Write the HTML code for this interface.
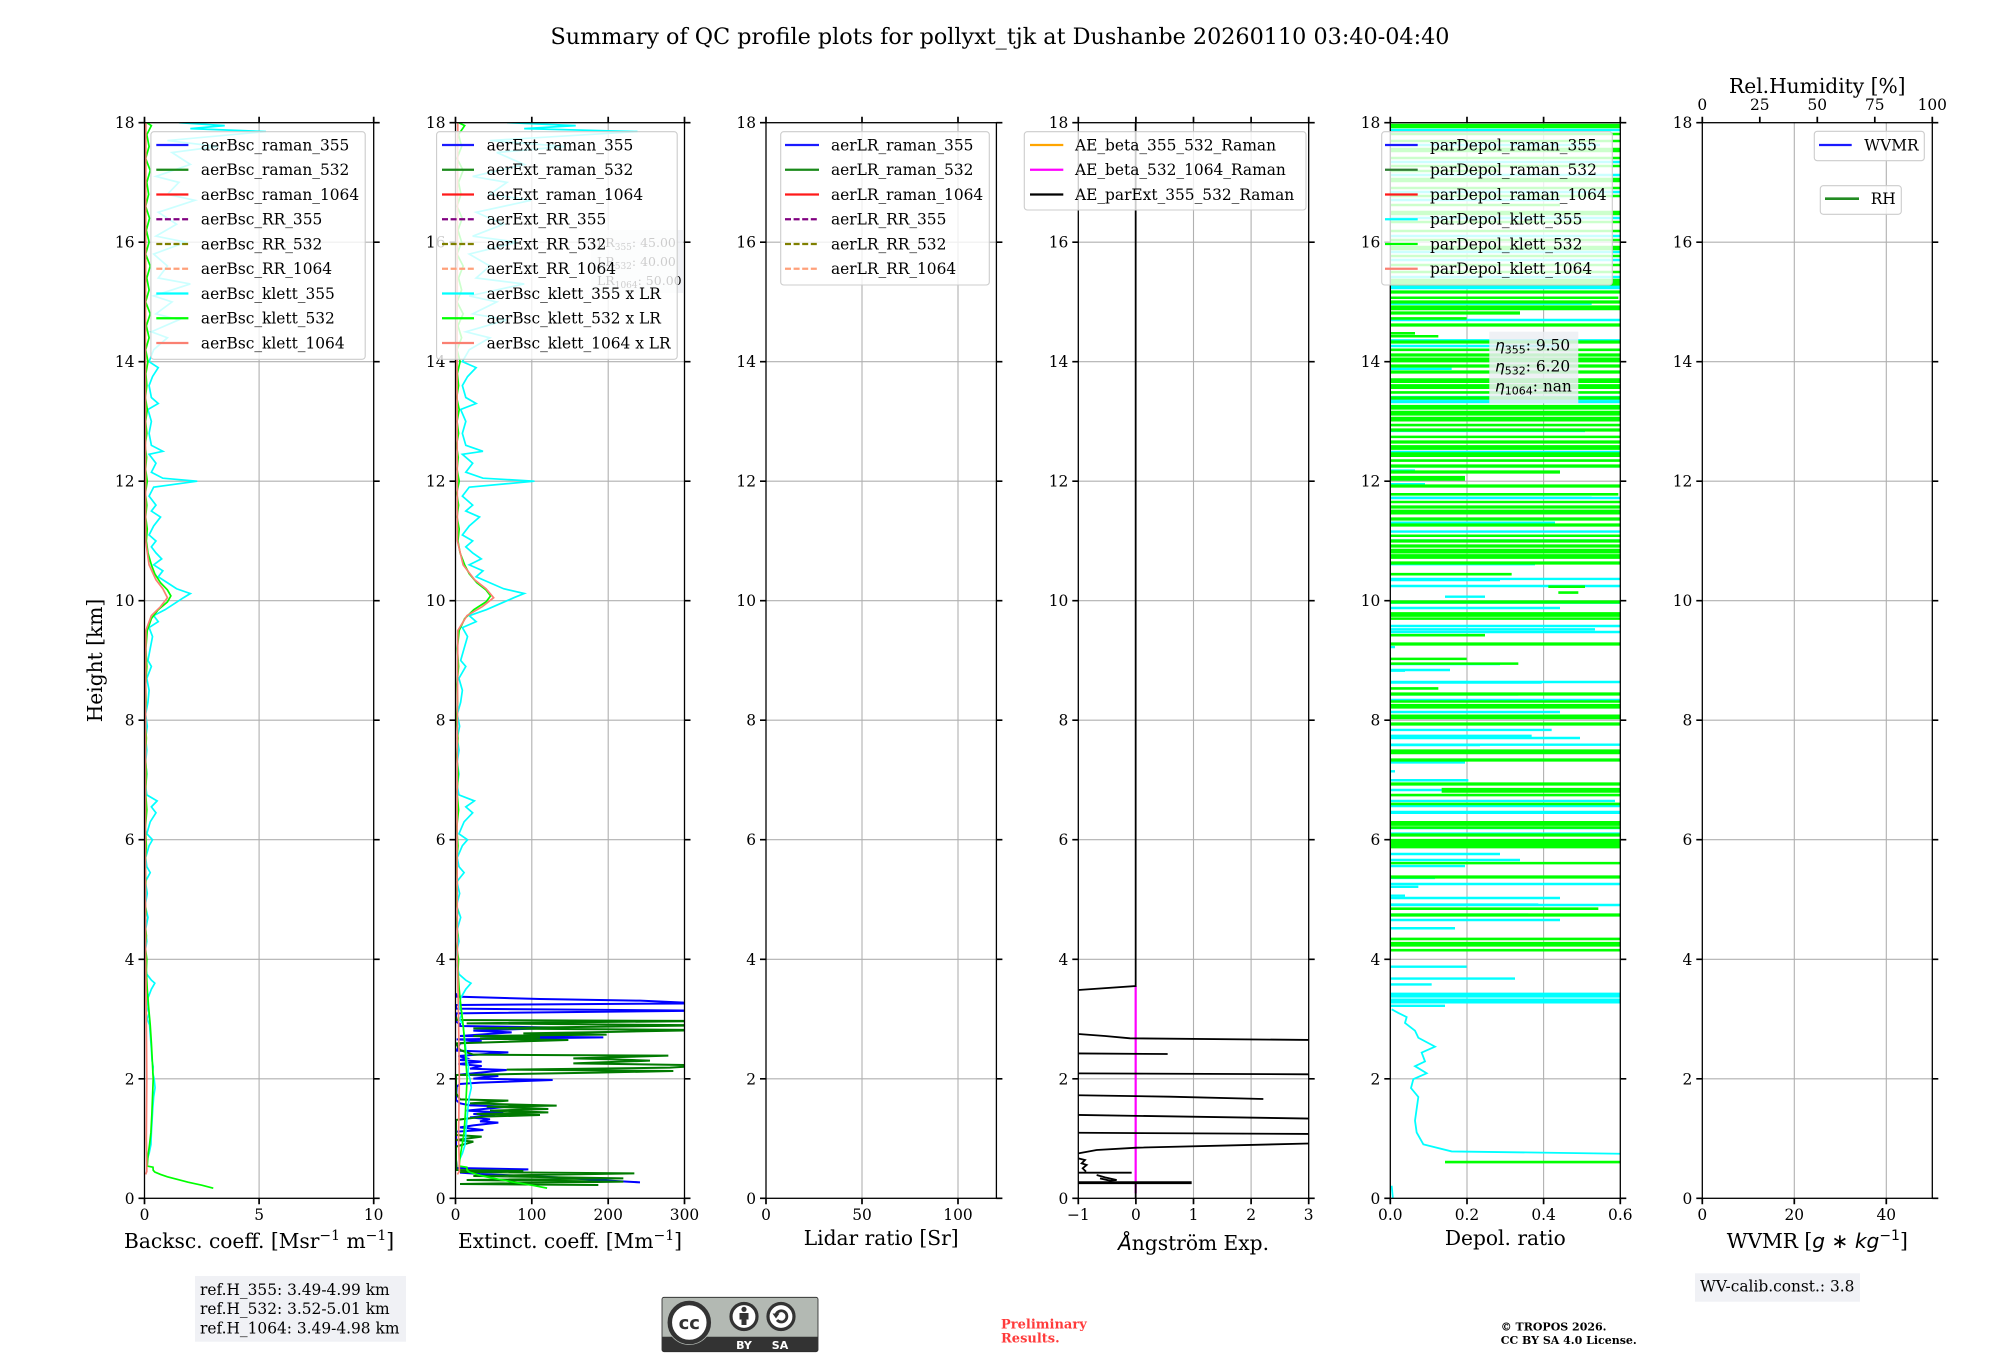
<!DOCTYPE html>
<html><head><meta charset="utf-8"><style>
html,body{margin:0;padding:0;background:#fff}
svg{display:block}
.ns path{vector-effect:non-scaling-stroke;fill:none}
text{font-family:"DejaVu Serif","Liberation Serif",serif;fill:#000}
.t{font-size:15.4px}
.lb{font-size:20.2px}
</style></head><body>
<svg width="2000" height="1360" viewBox="0 0 2000 1360" xmlns="http://www.w3.org/2000/svg">
<defs>
<clipPath id="c1"><rect x="144.5" y="122.7" width="229.2" height="1075.6"/></clipPath>
<clipPath id="c2"><rect x="455.5" y="122.7" width="229" height="1075.6"/></clipPath>
<clipPath id="c4"><rect x="1078.3" y="122.7" width="230.4" height="1075.6"/></clipPath>
<clipPath id="c5"><rect x="1390.3" y="122.7" width="230" height="1075.6"/></clipPath>
<path id="ytl" d="M-6 1198.3H0M-6 1078.8H0M-6 959.3H0M-6 839.7H0M-6 720.2H0M-6 600.7H0M-6 481.2H0M-6 361.7H0M-6 242.2H0M-6 122.7H0"/>
<path id="ytr" d="M0 1198.3H6M0 1078.8H6M0 959.3H6M0 839.7H6M0 720.2H6M0 600.7H6M0 481.2H6M0 361.7H6M0 242.2H6M0 122.7H6"/>
<path id="gh" d="M0 1078.8H230M0 959.3H230M0 839.7H230M0 720.2H230M0 600.7H230M0 481.2H230M0 361.7H230M0 242.2H230"/>
</defs>
<rect width="2000" height="1360" fill="#fff"/>

<!-- Title -->
<text x="1000" y="44" font-size="22" text-anchor="middle" textLength="899" lengthAdjust="spacingAndGlyphs">Summary of QC profile plots for pollyxt_tjk at Dushanbe 20260110 03:40-04:40</text>

<!-- Grids -->
<g stroke="#b0b0b0" stroke-width="1.1" fill="none">
<use href="#gh" x="144.5"/><use href="#gh" x="455.5"/><use href="#gh" x="766"/><use href="#gh" x="1078.5"/><use href="#gh" x="1390.3"/><use href="#gh" x="1702.3"/>
<path d="M259.1 122.7V1198.3M531.8 122.7V1198.3M608.2 122.7V1198.3M862 122.7V1198.3M958 122.7V1198.3M1135.9 122.7V1198.3M1193.5 122.7V1198.3M1251.1 122.7V1198.3M1467 122.7V1198.3M1543.6 122.7V1198.3M1794.3 122.7V1198.3M1886.3 122.7V1198.3"/>
</g>

<!-- Axis 1 data -->
<g clip-path="url(#c1)">
<g class="ns" transform="translate(144.5 1198.3) scale(22.92 -59.76)" stroke-width="1.7">
<path stroke="#00ffff" d="M0.12 0.65L0.2 0.75 0.28 0.9 0.3 1.1 0.33 1.3 0.36 1.5 0.4 1.7 0.46 1.85 0.42 2 0.36 2.1 0.38 2.2 0.33 2.3 0.3 2.5 0.26 2.7 0.22 2.9 0.12 3 0.2 3.1 0.1 3.2 0.15 3.35 0.3 3.5 0.45 3.6 0.3 3.65 0.1 3.75 0.05 3.9 0.08 4 0.02 4.1 0.1 4.3 0.05 4.5 0.15 4.7 0.03 4.9 0.12 5.1 0.04 5.3 0.25 5.45 0.1 5.55 0.05 5.7 0.2 5.9 0.35 6 0.1 6.1 0.25 6.3 0.5 6.45 0.3 6.55 0.55 6.65 0.1 6.75 0.05 6.9 0.1 7.1 0.05 7.3 0.1 7.5 0.05 7.7 0.12 7.9 0.05 8.1 0.15 8.3 0.2 8.5 0.1 8.7 0.3 8.9 0.15 9 0.25 9.2 0.35 9.4 0.2 9.55 0.6 9.65 0.4 9.75 0.9 9.85 1.3 9.95 1.7 10.05 2 10.12 1.4 10.2 1 10.3 0.6 10.4 0.8 10.5 0.4 10.6 0.75 10.7 0.5 10.8 0.3 10.9 0.5 11 0.2 11.1 0.4 11.25 0.7 11.4 0.3 11.5 0.5 11.6 0.2 11.75 0.4 11.9 2.3 12 0.8 12.05 0.3 12.15 0.5 12.3 0.2 12.45 0.8 12.5 0.3 12.6 0.2 12.8 0.3 13 0.15 13.2 0.6 13.3 0.3 13.4 0.2 13.6 0.35 13.75 0.6 13.9 0.2 14 0.4 14.2 1 14.4 0.3 14.5 1.5 14.7 0.5 14.8 1.2 15 0.4 15.1 2 15.3 0.6 15.4 1 15.6 0.4 15.8 1.8 16 0.5 16.1 1.4 16.3 0.6 16.5 2.2 16.7 1 16.8 1.5 17 0.5 17.1 2 17.3 1.2 17.5 3.2 17.6 1 17.7 5.3 17.85 2 17.9 3.5 17.95 1.5 18"/>
<path stroke="#00ff00" d="M3 0.17L2.5 0.22 1.9 0.27 1.4 0.32 1 0.36 0.7 0.4 0.45 0.44 0.38 0.47 0.37 0.52 0.12 0.54 0.15 0.7 0.22 0.9 0.28 1.1 0.32 1.4 0.35 1.7 0.38 2 0.34 2.3 0.3 2.6 0.25 2.9 0.18 3.2 0.12 3.5 0.08 3.8 0.1 4 0.04 4.2 0.08 4.4 0.03 4.6 0.07 4.8 0.02 5 0.06 5.3 0.03 5.6 0.08 5.9 0.04 6.2 0.1 6.5 0.05 6.8 0.09 7.1 0.04 7.4 0.08 7.7 0.03 8 0.07 8.3 0.05 8.6 0.1 8.9 0.06 9.2 0.12 9.5 0.3 9.7 0.6 9.85 1 9.98 1.15 10.08 1 10.18 0.7 10.3 0.45 10.45 0.3 10.6 0.15 10.8 0.08 11 0.12 11.2 0.05 11.4 0.1 11.6 0.04 11.8 0.12 12 0.05 12.2 0.09 12.4 0.03 12.6 0.1 12.8 0.05 13 0.12 13.2 0.04 13.4 0.1 13.6 0.06 13.8 0.15 14 0.05 14.2 0.2 14.4 0.08 14.6 0.25 14.8 0.05 15 0.2 15.2 0.1 15.4 0.25 15.6 0.05 15.8 0.2 16 0.08 16.2 0.22 16.4 0.05 16.6 0.18 16.8 0.1 17 0.25 17.2 0.05 17.4 0.2 17.6 0.1 17.8 0.3 17.95 0.1 18"/>
<path stroke="#fa8072" d="M0.05 0.4L0.1 0.45 0.1 0.6 0.08 1 0.1 2 0.08 3 0.05 4 0.04 6 0.05 8 0.06 9.5 0.3 9.75 0.7 9.9 1 10.05 0.8 10.2 0.5 10.35 0.2 10.6 0.05 11 0.04 14 0.06 18"/>
</g></g>

<!-- Axis 2 data -->
<g clip-path="url(#c2)">
<g class="ns" transform="translate(440 960) scale(0.33333)" stroke-width="2">
<path stroke="#0000ff" d="M600 667L470 660 350 652 120 642 60 638 265 628 50 624 48 600 48 515 130 510 60 502 100 496 175 488 120 484 150 478 90 472 165 466 100 462 190 458 80 452 205 440 90 436 60 430 48 420 50 380 60 372 120 368 338 360 100 356 175 348 60 344 200 330 90 326 125 318 55 312 125 305 60 300 80 295 55 288 205 277 50 272 60 250 125 242 50 238 490 232 60 228 215 217 100 212 365 203 60 198 60 192 48 185 48 160 800 152 48 146 48 135 800 130 733 128 600 122 300 117 50 110 48 100"/>
<path stroke="#007a00" d="M475 675L60 672 550 665 80 660 550 655 100 648 583 640 60 636 250 633 50 630 48 600 48 560 100 545 48 540 125 530 48 525 48 480 130 470 300 465 110 462 325 457 150 452 325 447 260 444 140 440 350 437 90 430 205 422 60 418 48 400 48 345 470 338 700 333 200 329 690 323 800 316 400 310 630 302 520 298 400 295 685 287 100 284 60 270 48 250 385 240 120 236 300 232 100 228 500 224 250 220 500 216 800 210 100 205 800 196 80 190 800 183 50 180 48 170"/>
</g>
<g class="ns" transform="translate(455.5 1198.3) scale(0.7633 -59.76)" stroke-width="1.7">
<g transform="scale(45 1)"><path stroke="#00ffff" d="M0.12 0.65L0.2 0.75 0.28 0.9 0.3 1.1 0.33 1.3 0.36 1.5 0.4 1.7 0.46 1.85 0.42 2 0.36 2.1 0.38 2.2 0.33 2.3 0.3 2.5 0.26 2.7 0.22 2.9 0.12 3 0.2 3.1 0.1 3.2 0.15 3.35 0.3 3.5 0.45 3.6 0.3 3.65 0.1 3.75 0.05 3.9 0.08 4 0.02 4.1 0.1 4.3 0.05 4.5 0.15 4.7 0.03 4.9 0.12 5.1 0.04 5.3 0.25 5.45 0.1 5.55 0.05 5.7 0.2 5.9 0.35 6 0.1 6.1 0.25 6.3 0.5 6.45 0.3 6.55 0.55 6.65 0.1 6.75 0.05 6.9 0.1 7.1 0.05 7.3 0.1 7.5 0.05 7.7 0.12 7.9 0.05 8.1 0.15 8.3 0.2 8.5 0.1 8.7 0.3 8.9 0.15 9 0.25 9.2 0.35 9.4 0.2 9.55 0.6 9.65 0.4 9.75 0.9 9.85 1.3 9.95 1.7 10.05 2 10.12 1.4 10.2 1 10.3 0.6 10.4 0.8 10.5 0.4 10.6 0.75 10.7 0.5 10.8 0.3 10.9 0.5 11 0.2 11.1 0.4 11.25 0.7 11.4 0.3 11.5 0.5 11.6 0.2 11.75 0.4 11.9 2.3 12 0.8 12.05 0.3 12.15 0.5 12.3 0.2 12.45 0.8 12.5 0.3 12.6 0.2 12.8 0.3 13 0.15 13.2 0.6 13.3 0.3 13.4 0.2 13.6 0.35 13.75 0.6 13.9 0.2 14 0.4 14.2 1 14.4 0.3 14.5 1.5 14.7 0.5 14.8 1.2 15 0.4 15.1 2 15.3 0.6 15.4 1 15.6 0.4 15.8 1.8 16 0.5 16.1 1.4 16.3 0.6 16.5 2.2 16.7 1 16.8 1.5 17 0.5 17.1 2 17.3 1.2 17.5 3.2 17.6 1 17.7 5.3 17.85 2 17.9 3.5 17.95 1.5 18"/></g>
<g transform="scale(40 1)"><path stroke="#00ff00" d="M3 0.17L2.5 0.22 1.9 0.27 1.4 0.32 1 0.36 0.7 0.4 0.45 0.44 0.38 0.47 0.37 0.52 0.12 0.54 0.15 0.7 0.22 0.9 0.28 1.1 0.32 1.4 0.35 1.7 0.38 2 0.34 2.3 0.3 2.6 0.25 2.9 0.18 3.2 0.12 3.5 0.08 3.8 0.1 4 0.04 4.2 0.08 4.4 0.03 4.6 0.07 4.8 0.02 5 0.06 5.3 0.03 5.6 0.08 5.9 0.04 6.2 0.1 6.5 0.05 6.8 0.09 7.1 0.04 7.4 0.08 7.7 0.03 8 0.07 8.3 0.05 8.6 0.1 8.9 0.06 9.2 0.12 9.5 0.3 9.7 0.6 9.85 1 9.98 1.15 10.08 1 10.18 0.7 10.3 0.45 10.45 0.3 10.6 0.15 10.8 0.08 11 0.12 11.2 0.05 11.4 0.1 11.6 0.04 11.8 0.12 12 0.05 12.2 0.09 12.4 0.03 12.6 0.1 12.8 0.05 13 0.12 13.2 0.04 13.4 0.1 13.6 0.06 13.8 0.15 14 0.05 14.2 0.2 14.4 0.08 14.6 0.25 14.8 0.05 15 0.2 15.2 0.1 15.4 0.25 15.6 0.05 15.8 0.2 16 0.08 16.2 0.22 16.4 0.05 16.6 0.18 16.8 0.1 17 0.25 17.2 0.05 17.4 0.2 17.6 0.1 17.8 0.3 17.95 0.1 18"/></g>
<g transform="scale(50 1)"><path stroke="#fa8072" d="M0.05 0.4L0.1 0.45 0.1 0.6 0.08 1 0.1 2 0.08 3 0.05 4 0.04 6 0.05 8 0.06 9.5 0.3 9.75 0.7 9.9 1 10.05 0.8 10.2 0.5 10.35 0.2 10.6 0.05 11 0.04 14 0.06 18"/></g>
</g></g>

<!-- Axis 4 data -->
<g clip-path="url(#c4)">
<g class="ns" transform="translate(1070 960) scale(0.33333)" stroke-width="1.8">
<path stroke="#ff00ff" stroke-width="2.2" d="M197 78V700"/>
<path stroke="#000" d="M197 -2520V78L25 90 -30 91M-30 222L25 222 105 228 180 235 740 240M-30 280L293 282M-30 340L740 343M-30 405L300 410 580 417M-30 464L740 476M-30 518L740 522M25 580L80 570 200 563 740 550M25 595L45 600 35 610 50 615 38 625 48 635M-30 638L185 638M80 645L105 652 140 660 120 662 90 655M197 668V740"/>
<path stroke="#000" stroke-width="2.8" d="M-30 668L365 668"/>
</g></g>

<!-- Axis 5 data -->
<g clip-path="url(#c5)">
<g fill="none">
<path stroke="#00ffff" stroke-width="2.4" d="M1385 130H1625M1385 145H1600M1385 162H1625M1385 175H1625M1385 192H1625M1385 200H1560M1385 218H1625M1385 236H1625M1385 252H1625M1385 260H1625M1385 277H1625"/>
<path stroke="#00ff00" stroke-width="2.4" d="M1385 134H1625M1385 141H1625M1385 158H1625M1385 166H1625M1385 171H1500M1385 188H1625M1385 196H1625M1385 205H1560M1385 222H1625M1385 231H1625M1385 240H1625M1385 256H1625M1385 265H1625M1385 272H1625"/>
<path stroke="#00ff00" stroke-width="4.5" d="M1385 126H1625M1385 150H1625M1385 180H1625M1385 213H1625M1385 248H1625M1385 281H1625"/>
</g>
<g class="ns" transform="translate(1385 280) scale(0.33333 0.592)">
<path stroke="#00ffff" stroke-width="2.4" d="M0 10H720M0 20H720M0 40H620M0 102H720M0 150H200M0 255H600M0 315H720M0 322H90M0 345H120M0 368H620M0 410H510M0 425H720M0 440H720M0 480H450M0 505H720M180 535H300M0 545H720M0 590H630M0 620H30M0 660H60M0 680H470M0 700H400M0 760H500M0 770H440M0 785H720M0 815H240M0 830H30M0 845H250M0 880H690M0 900H720M0 935H720M0 990H240M0 1010H150M0 1025H100M0 1040H60M0 1055H460M0 1072H430M0 1095H210M0 1160H245M0 1180H390M0 1190H140M0 1226H180"/>
<path stroke="#00ffff" stroke-width="5" d="M0 200H720M0 1208H720M0 1218H720"/>
<path stroke="#00ffff" stroke-width="1.8" d="M720 1476L200 1472 115 1460 95 1440 90 1420 95 1400 100 1380 78 1365 85 1350 125 1340 90 1328 120 1320 110 1305 150 1295 100 1280 90 1268 60 1255 65 1245 40 1238 20 1232M20 1530L25 1560"/>
</g>
<!-- extra cyan (orig coords) -->
<path fill="none" stroke="#00ffff" stroke-width="2.4" d="M1385 586H1625M1385 608H1560M1385 632H1625M1385 664H1500M1385 682H1625M1385 700H1625M1385 738H1580M1385 752H1625M1385 790H1600M1385 806H1625M1385 828H1625M1385 845H1625M1385 860H1520M1385 884H1625M1385 905H1625M1385 920H1560M1385 288H1625M1385 320H1625M1385 346H1560M1385 402H1625M1385 452H1625M1385 498H1625M1385 580H1500M1385 626H1625M1385 670H1450M1385 712H1560M1385 745H1480M1385 812H1625M1385 854H1500M1385 898H1560"/>
<g class="ns" transform="translate(1385 280) scale(0.33333 0.592)">
<path stroke="#00ff00" stroke-width="2.6" d="M0 30H700M0 65H245M0 90H90M0 95H160M0 118H720M0 190H720M0 245H720M0 265H720M0 305H720M0 362H700M0 375H720M0 432H720M490 518H600M520 528H580M0 497H380M0 572H720M0 600H300M0 640H245M0 648H400M0 690H160M0 712H720M0 870H720M0 885H720M0 925H720M0 985H720M0 1062H640M0 1113H720M0 1132H720M180 1490H720"/>
<path stroke="#00ff00" stroke-width="4.8" d="M0 47H720M0 135H720M0 170H720M0 180H720M0 215H720M0 225H720M0 235H720M0 283H720M0 295H720M0 335H240M0 392H720M0 458H720M0 467H720M0 565H720M0 720H720M0 738H720M0 797H720M170 862H720M0 918H720M0 948H720M0 956H720M0 1122H720"/>
</g>
<!-- extra green (orig coords) -->
<path fill="none" stroke="#00ff00" stroke-width="3.2" d="M1385 284H1625M1385 292H1625M1385 302H1625M1385 313H1520M1385 325H1625M1385 342H1625M1385 355H1625M1385 366H1625M1385 372H1625M1385 398H1625M1385 430H1625M1385 442H1625M1385 466H1625M1385 472H1560M1385 486H1625M1385 507H1625M1385 519H1625M1385 525H1625M1385 541H1625M1385 546H1625M1385 563H1625M1385 602H1625M1385 644H1625M1385 694H1625M1385 724H1625M1385 760H1625M1385 784H1625M1385 835H1625M1385 877H1625M1385 915H1625"/>
</g>

<!-- Spines -->
<g fill="none" stroke="#000" stroke-width="1.3">
<rect x="144.5" y="122.7" width="229.2" height="1075.6"/>
<rect x="455.5" y="122.7" width="229" height="1075.6"/>
<rect x="766" y="122.7" width="230.4" height="1075.6"/>
<rect x="1078.3" y="122.7" width="230.4" height="1075.6"/>
<rect x="1390.3" y="122.7" width="230" height="1075.6"/>
<rect x="1702.3" y="122.7" width="230" height="1075.6"/>
</g>

<!-- Ticks -->
<g fill="none" stroke="#000" stroke-width="1.7">
<use href="#ytl" x="144.5"/><use href="#ytr" x="373.7"/>
<use href="#ytl" x="455.5"/><use href="#ytr" x="684.5"/>
<use href="#ytl" x="766"/><use href="#ytr" x="996.4"/>
<use href="#ytl" x="1078.3"/><use href="#ytr" x="1308.7"/>
<use href="#ytl" x="1390.3"/><use href="#ytr" x="1620.3"/>
<use href="#ytl" x="1702.3"/><use href="#ytr" x="1932.3"/>
<path d="M144.5 1198.3V1204.3M259.1 1198.3V1204.3M373.7 1198.3V1204.3M144.5 122.7V116.7M259.1 122.7V116.7M373.7 122.7V116.7
M455.5 1198.3V1204.3M531.8 1198.3V1204.3M608.2 1198.3V1204.3M684.5 1198.3V1204.3M455.5 122.7V116.7M531.8 122.7V116.7M608.2 122.7V116.7M684.5 122.7V116.7
M766 1198.3V1204.3M862 1198.3V1204.3M958 1198.3V1204.3M766 122.7V116.7M862 122.7V116.7M958 122.7V116.7
M1078.3 1198.3V1204.3M1135.9 1198.3V1204.3M1193.5 1198.3V1204.3M1251.1 1198.3V1204.3M1308.7 1198.3V1204.3M1078.3 122.7V116.7M1135.9 122.7V116.7M1193.5 122.7V116.7M1251.1 122.7V116.7M1308.7 122.7V116.7
M1390.3 1198.3V1204.3M1467 1198.3V1204.3M1543.6 1198.3V1204.3M1620.3 1198.3V1204.3M1390.3 122.7V116.7M1467 122.7V116.7M1543.6 122.7V116.7M1620.3 122.7V116.7
M1702.3 1198.3V1204.3M1794.3 1198.3V1204.3M1886.3 1198.3V1204.3M1702.3 122.7V116.7M1759.8 122.7V116.7M1817.3 122.7V116.7M1874.8 122.7V116.7M1932.3 122.7V116.7"/>
</g>

<!-- Y tick labels -->
<g class="t" text-anchor="end">
<g transform="translate(134.5 0)"><text y="1203.8">0</text><text y="1084.3">2</text><text y="964.8">4</text><text y="845.2">6</text><text y="725.7">8</text><text y="606.2">10</text><text y="486.7">12</text><text y="367.2">14</text><text y="247.7">16</text><text y="128.2">18</text></g>
<g transform="translate(445.5 0)"><text y="1203.8">0</text><text y="1084.3">2</text><text y="964.8">4</text><text y="845.2">6</text><text y="725.7">8</text><text y="606.2">10</text><text y="486.7">12</text><text y="367.2">14</text><text y="247.7">16</text><text y="128.2">18</text></g>
<g transform="translate(756 0)"><text y="1203.8">0</text><text y="1084.3">2</text><text y="964.8">4</text><text y="845.2">6</text><text y="725.7">8</text><text y="606.2">10</text><text y="486.7">12</text><text y="367.2">14</text><text y="247.7">16</text><text y="128.2">18</text></g>
<g transform="translate(1068.3 0)"><text y="1203.8">0</text><text y="1084.3">2</text><text y="964.8">4</text><text y="845.2">6</text><text y="725.7">8</text><text y="606.2">10</text><text y="486.7">12</text><text y="367.2">14</text><text y="247.7">16</text><text y="128.2">18</text></g>
<g transform="translate(1380.3 0)"><text y="1203.8">0</text><text y="1084.3">2</text><text y="964.8">4</text><text y="845.2">6</text><text y="725.7">8</text><text y="606.2">10</text><text y="486.7">12</text><text y="367.2">14</text><text y="247.7">16</text><text y="128.2">18</text></g>
<g transform="translate(1692.3 0)"><text y="1203.8">0</text><text y="1084.3">2</text><text y="964.8">4</text><text y="845.2">6</text><text y="725.7">8</text><text y="606.2">10</text><text y="486.7">12</text><text y="367.2">14</text><text y="247.7">16</text><text y="128.2">18</text></g>
</g>

<!-- X tick labels -->
<g class="t" text-anchor="middle">
<text x="144.5" y="1220">0</text><text x="259.1" y="1220">5</text><text x="373.7" y="1220">10</text>
<text x="455.5" y="1220">0</text><text x="531.8" y="1220">100</text><text x="608.2" y="1220">200</text><text x="684.5" y="1220">300</text>
<text x="766" y="1220">0</text><text x="862" y="1220">50</text><text x="958" y="1220">100</text>
<text x="1078.3" y="1220">−1</text><text x="1135.9" y="1220">0</text><text x="1193.5" y="1220">1</text><text x="1251.1" y="1220">2</text><text x="1308.7" y="1220">3</text>
<text x="1390.3" y="1220">0.0</text><text x="1467" y="1220">0.2</text><text x="1543.6" y="1220">0.4</text><text x="1620.3" y="1220">0.6</text>
<text x="1702.3" y="1220">0</text><text x="1794.3" y="1220">20</text><text x="1886.3" y="1220">40</text>
<text x="1702.3" y="110">0</text><text x="1759.8" y="110">25</text><text x="1817.3" y="110">50</text><text x="1874.8" y="110">75</text><text x="1932.3" y="110">100</text>
</g>

<!-- Axis labels -->
<g class="lb" text-anchor="middle">
<text x="259.1" y="1248">Backsc. coeff. [Msr<tspan font-size="14" dy="-8">−1</tspan><tspan dy="8"> m</tspan><tspan font-size="14" dy="-8">−1</tspan><tspan dy="8">]</tspan></text>
<text x="570" y="1248">Extinct. coeff. [Mm<tspan font-size="14" dy="-8">−1</tspan><tspan dy="8">]</tspan></text>
<text x="881.2" y="1245">Lidar ratio [Sr]</text>
<text x="1193.5" y="1250"><tspan font-family="DejaVu Sans" font-style="italic">Å</tspan>ngström Exp.</text>
<text x="1505.3" y="1245">Depol. ratio</text>
<text x="1817.3" y="1248">WVMR [<tspan font-family="DejaVu Sans" font-style="italic">g</tspan><tspan font-family="DejaVu Sans"> ∗ </tspan><tspan font-family="DejaVu Sans" font-style="italic">kg</tspan><tspan font-family="DejaVu Sans" font-size="14" dy="-8">−1</tspan><tspan dy="8">]</tspan></text>
<text x="1817.3" y="93">Rel.Humidity [%]</text>
<text transform="translate(102 660.5) rotate(-90)">Height [km]</text>
</g>

<!-- LR text box (axis 2) -->
<rect x="591" y="230" width="92" height="63" fill="#eef0f4" fill-opacity="0.85"/>
<g font-size="12.5">
<text x="597" y="247">LR<tspan font-size="9" dy="3">355</tspan><tspan dy="-3">: 45.00</tspan></text>
<text x="597" y="266">LR<tspan font-size="9" dy="3">532</tspan><tspan dy="-3">: 40.00</tspan></text>
<text x="597" y="285">LR<tspan font-size="9" dy="3">1064</tspan><tspan dy="-3">: 50.00</tspan></text>
</g>

<!-- Eta text box (axis 5) -->
<rect x="1489.3" y="331.7" width="89" height="71.6" fill="#eceef3" fill-opacity="0.85"/>
<g font-size="15.4">
<text x="1495" y="350.5"><tspan font-family="DejaVu Sans" font-style="italic">η</tspan><tspan font-size="11" font-family="DejaVu Sans" dy="3">355</tspan><tspan dy="-3">: 9.50</tspan></text>
<text x="1495" y="371.5"><tspan font-family="DejaVu Sans" font-style="italic">η</tspan><tspan font-size="11" font-family="DejaVu Sans" dy="3">532</tspan><tspan dy="-3">: 6.20</tspan></text>
<text x="1495" y="391.5"><tspan font-family="DejaVu Sans" font-style="italic">η</tspan><tspan font-size="11" font-family="DejaVu Sans" dy="3">1064</tspan><tspan dy="-3">: nan</tspan></text>
</g>

<!-- Legends -->
<g stroke="#cccccc" stroke-width="1.1" fill="#fff" fill-opacity="0.8">
<rect x="150.9" y="131.7" width="214.3" height="227.6" rx="3"/>
<rect x="436.6" y="131.7" width="240.6" height="227.6" rx="3"/>
<rect x="780.7" y="131.7" width="208.6" height="153.3" rx="3"/>
<rect x="1024.3" y="131.7" width="281.7" height="78.3" rx="3"/>
<rect x="1381.7" y="131.7" width="230.6" height="153.3" rx="3"/>
<rect x="1814.3" y="131.3" width="110" height="29.4" rx="3"/>
<rect x="1820.3" y="185.7" width="81" height="28.6" rx="3"/>
</g>
<!-- Legend handles -->
<g fill="none" stroke-width="2.2">
<path stroke="#1a1aff" d="M156.3 145H188.4"/><path stroke="#1a8a1a" d="M156.3 169.75H188.4"/><path stroke="#ff1a1a" d="M156.3 194.5H188.4"/>
<path stroke="#800080" stroke-dasharray="6 2.6" d="M156.3 219.25H188.4"/><path stroke="#808000" stroke-dasharray="6 2.6" d="M156.3 244H188.4"/><path stroke="#ffa07a" stroke-dasharray="6 2.6" d="M156.3 268.75H188.4"/>
<path stroke="#00ffff" d="M156.3 293.5H188.4"/><path stroke="#00ff00" d="M156.3 318.25H188.4"/><path stroke="#fa8072" d="M156.3 343H188.4"/>
<path stroke="#1a1aff" d="M442 145H474"/><path stroke="#1a8a1a" d="M442 169.75H474"/><path stroke="#ff1a1a" d="M442 194.5H474"/>
<path stroke="#800080" stroke-dasharray="6 2.6" d="M442 219.25H474"/><path stroke="#808000" stroke-dasharray="6 2.6" d="M442 244H474"/><path stroke="#ffa07a" stroke-dasharray="6 2.6" d="M442 268.75H474"/>
<path stroke="#00ffff" d="M442 293.5H474"/><path stroke="#00ff00" d="M442 318.25H474"/><path stroke="#fa8072" d="M442 343H474"/>
<path stroke="#1a1aff" d="M785 145H819"/><path stroke="#1a8a1a" d="M785 169.75H819"/><path stroke="#ff1a1a" d="M785 194.5H819"/>
<path stroke="#800080" stroke-dasharray="6 2.6" d="M785 219.25H819"/><path stroke="#808000" stroke-dasharray="6 2.6" d="M785 244H819"/><path stroke="#ffa07a" stroke-dasharray="6 2.6" d="M785 268.75H819"/>
<path stroke="#ffa500" d="M1030 145H1063.3"/><path stroke="#ff00ff" d="M1030 169.75H1063.3"/><path stroke="#000" d="M1030 194.5H1063.3"/>
<path stroke="#1a1aff" d="M1385 145H1417.7"/><path stroke="#2e7d32" d="M1385 169.75H1417.7"/><path stroke="#ff1a1a" d="M1385 194.5H1417.7"/>
<path stroke="#00ffff" d="M1385 219.25H1417.7"/><path stroke="#00ff00" d="M1385 244H1417.7"/><path stroke="#fa8072" d="M1385 268.75H1417.7"/>
<path stroke="#1a1aff" d="M1819 145H1851.7"/><path stroke="#228b22" stroke-width="2.6" d="M1825 198.7H1859"/>
</g>
<g class="t">
<text x="200.9" y="150.4">aerBsc_raman_355</text><text x="200.9" y="175.15">aerBsc_raman_532</text><text x="200.9" y="199.9">aerBsc_raman_1064</text><text x="200.9" y="224.65">aerBsc_RR_355</text><text x="200.9" y="249.4">aerBsc_RR_532</text><text x="200.9" y="274.15">aerBsc_RR_1064</text><text x="200.9" y="298.9">aerBsc_klett_355</text><text x="200.9" y="323.65">aerBsc_klett_532</text><text x="200.9" y="348.4">aerBsc_klett_1064</text>
<text x="486.6" y="150.4">aerExt_raman_355</text><text x="486.6" y="175.15">aerExt_raman_532</text><text x="486.6" y="199.9">aerExt_raman_1064</text><text x="486.6" y="224.65">aerExt_RR_355</text><text x="486.6" y="249.4">aerExt_RR_532</text><text x="486.6" y="274.15">aerExt_RR_1064</text><text x="486.6" y="298.9">aerBsc_klett_355 x LR</text><text x="486.6" y="323.65">aerBsc_klett_532 x LR</text><text x="486.6" y="348.4">aerBsc_klett_1064 x LR</text>
<text x="831" y="150.4">aerLR_raman_355</text><text x="831" y="175.15">aerLR_raman_532</text><text x="831" y="199.9">aerLR_raman_1064</text><text x="831" y="224.65">aerLR_RR_355</text><text x="831" y="249.4">aerLR_RR_532</text><text x="831" y="274.15">aerLR_RR_1064</text>
<text x="1075" y="150.4">AE_beta_355_532_Raman</text><text x="1075" y="175.15">AE_beta_532_1064_Raman</text><text x="1075" y="199.9">AE_parExt_355_532_Raman</text>
<text x="1430" y="150.4">parDepol_raman_355</text><text x="1430" y="175.15">parDepol_raman_532</text><text x="1430" y="199.9">parDepol_raman_1064</text><text x="1430" y="224.65">parDepol_klett_355</text><text x="1430" y="249.4">parDepol_klett_532</text><text x="1430" y="274.15">parDepol_klett_1064</text>
<text x="1864.3" y="150.4">WVMR</text>
<text x="1870.7" y="204.1">RH</text>
</g>

<!-- Reference height box -->
<rect x="195" y="1276" width="211" height="65.7" fill="#f0f1f5"/>
<g class="t">
<text x="200" y="1295">ref.H_355: 3.49-4.99 km</text>
<text x="200" y="1314">ref.H_532: 3.52-5.01 km</text>
<text x="200" y="1333.3">ref.H_1064: 3.49-4.98 km</text>
</g>

<!-- WV calib box -->
<rect x="1695" y="1273.3" width="165" height="28.4" fill="#f0f1f5"/>
<text class="t" x="1700" y="1291.7">WV-calib.const.: 3.8</text>

<!-- CC logo -->
<g>
<rect x="662" y="1297.3" width="156" height="54.4" rx="2" fill="#b3b9b3" stroke="#222" stroke-width="0.8"/>
<path d="M662 1336.7H818V1349.7Q818 1351.7 816 1351.7H664Q662 1351.7 662 1349.7Z" fill="#333"/>
<circle cx="689.3" cy="1322.5" r="22.5" fill="#b3b9b3"/>
<circle cx="689.3" cy="1322.5" r="19.5" fill="#fff" stroke="#333" stroke-width="4.5"/>
<text x="689.3" y="1329" text-anchor="middle" font-weight="bold" font-size="18" style="font-family:'DejaVu Sans',sans-serif;fill:#333">cc</text>
<circle cx="744" cy="1316.5" r="13" fill="#fff" stroke="#333" stroke-width="3.2"/>
<circle cx="744" cy="1309.3" r="2.6" fill="#333"/>
<path d="M739.5 1313H748.5V1319.5H746.5V1325H741.5V1319.5H739.5Z" fill="#333"/>
<circle cx="781" cy="1316.5" r="13" fill="#fff" stroke="#333" stroke-width="3.2"/>
<path d="M776 1314.5A5.6 5.6 0 1 1 777 1320" fill="none" stroke="#333" stroke-width="2.8"/>
<path d="M772.5 1313.5L779.5 1313.5 776 1318.5Z" fill="#333"/>
<text x="744" y="1349" text-anchor="middle" font-weight="bold" font-size="11" style="font-family:'DejaVu Sans',sans-serif;fill:#fff">BY</text>
<text x="780" y="1349" text-anchor="middle" font-weight="bold" font-size="11" style="font-family:'DejaVu Sans',sans-serif;fill:#fff">SA</text>
</g>

<!-- Preliminary -->
<g font-size="13" font-weight="bold">
<text x="1001" y="1328.3" style="fill:#ff3b3b">Preliminary</text>
<text x="1001" y="1342.7" style="fill:#ff3b3b">Results.</text>
</g>

<!-- Copyright -->
<g font-size="11" font-weight="bold">
<text x="1500.7" y="1330.7">© TROPOS 2026.</text>
<text x="1500.7" y="1344">CC BY SA 4.0 License.</text>
</g>
</svg>
</body></html>
